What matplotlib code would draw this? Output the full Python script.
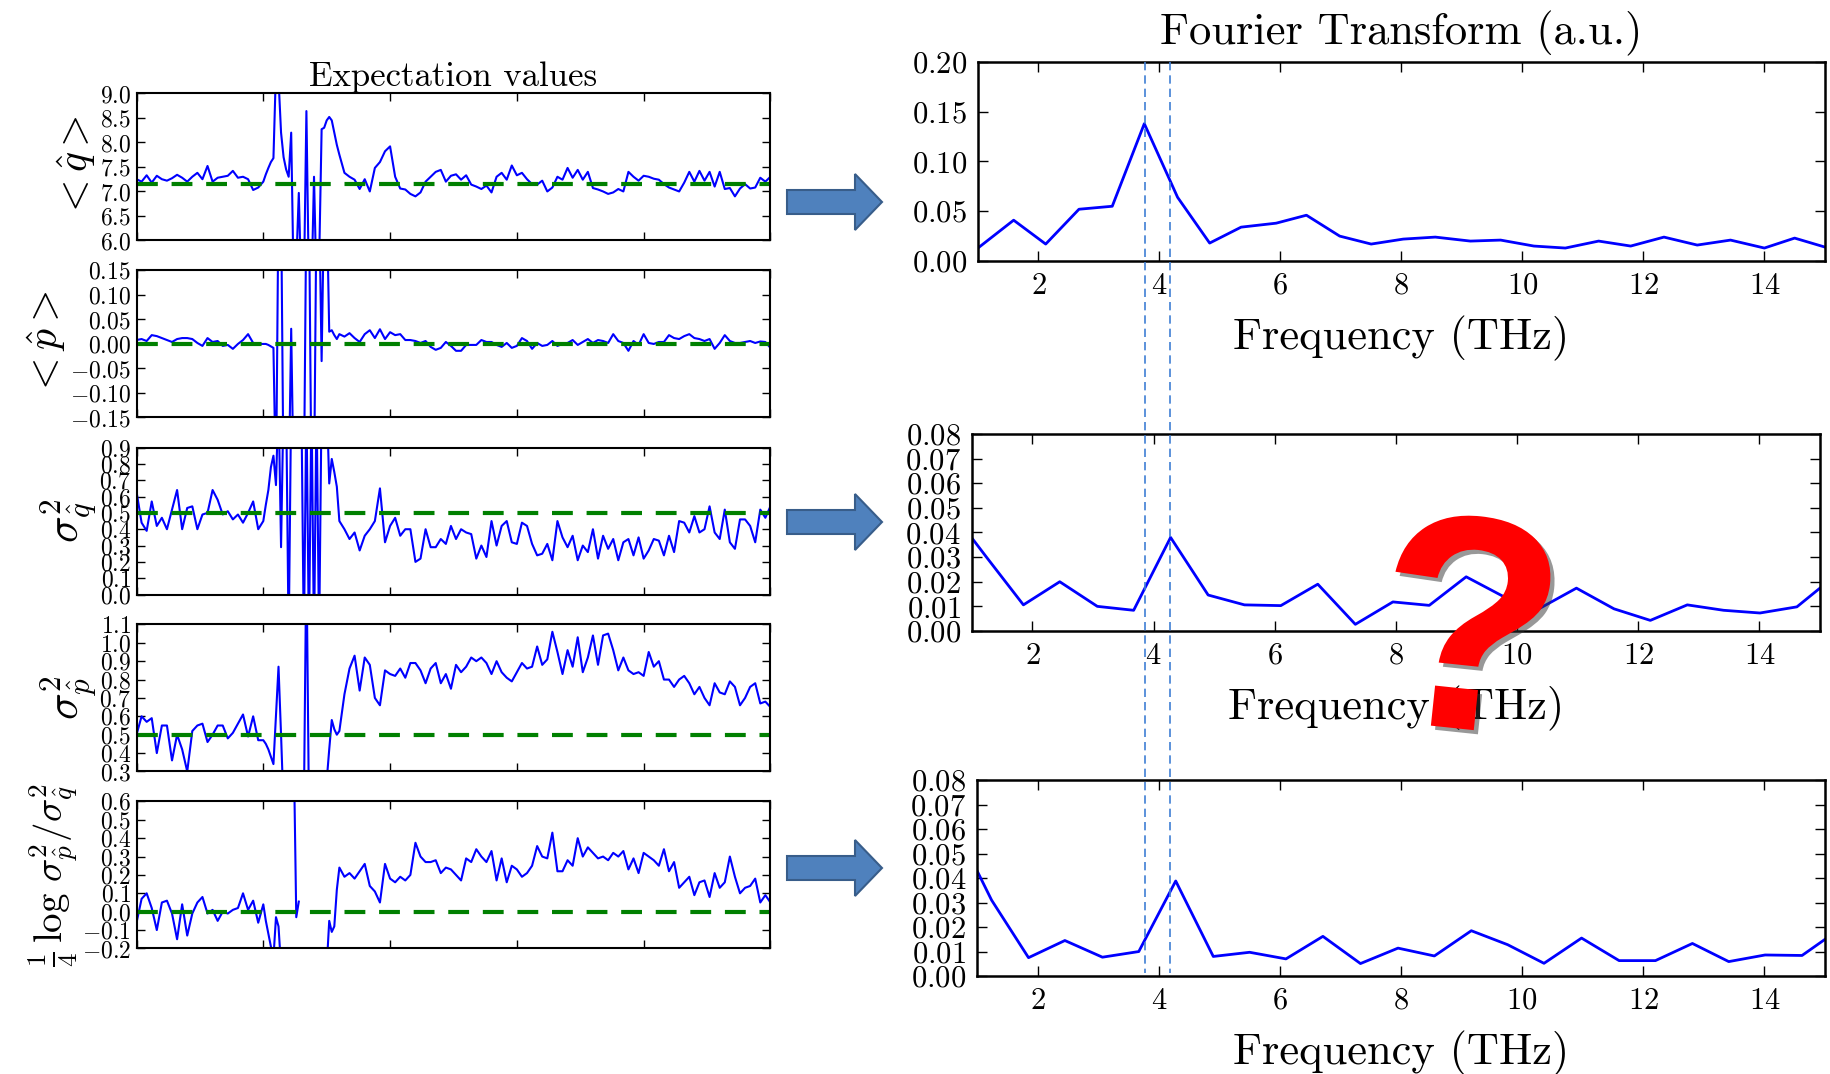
import numpy as np
import matplotlib
matplotlib.use("Agg")
import matplotlib.pyplot as plt
import matplotlib.patheffects as pe
from matplotlib.patches import FancyArrow
from matplotlib.ticker import FuncFormatter

plt.rcParams['font.family'] = 'serif'
plt.rcParams['font.serif'] = ['cmr10']
plt.rcParams['mathtext.fontset'] = 'cm'
plt.rcParams['axes.unicode_minus'] = False

# ---------------- data: expectation values (time in simulation steps) ----------------
# sampling grid: every 2 steps, every step in the transient part
t_steps = list(range(0, 50, 2)) + list(range(50, 81)) + list(range(82, 251, 2))
nan = float('nan')

q_mean = [
    7.25, 7.2, 7.33, 7.18, 7.32, 7.25, 7.22, 7.27, 7.34, 7.28, 7.2, 7.3, 7.38, 7.25, 7.52, 7.2, 7.28, 7.3, 7.32, 7.42, 7.28, 7.3, 7.25, 7.03, 7.08,
    7.2, 7.35, 7.48, 7.6, 7.68, 9.5, 9.3, 8.2, 7.7, 7.45, 7.3, 8.2, 5.0, 5.5, 6.97, 5.0, 5.0, 8.64, 5.0, 5.0, 7.3, 5.0, 5.5, 8.27, 8.3, 8.45, 8.52, 8.45, 8.2, 7.95, 7.75,
    7.38, 7.3, 7.24, 7.05, 7.25, 7.0, 7.48, 7.6, 7.82, 7.92,
    7.3, 7.06, 7.04, 6.95, 6.9, 6.98, 7.2, 7.3, 7.4, 7.44,
    7.2, 7.32, 7.35, 7.24, 7.33, 7.14, 7.1, 7.05, 7.12, 6.98,
    7.3, 7.38, 7.24, 7.53, 7.33, 7.38, 7.25, 7.15, 7.14, 7.22,
    7.0, 7.08, 7.3, 7.24, 7.48, 7.28, 7.44, 7.24, 7.4, 7.07,
    7.04, 7.0, 6.95, 6.98, 7.05, 7.0, 7.4, 7.3, 7.22, 7.32,
    7.3, 7.26, 7.24, 7.15, 7.08, 7.04, 7.0, 7.18, 7.4, 7.2,
    7.42, 7.22, 7.4, 7.1, 7.4, 7.05, 7.07, 6.9, 7.06, 7.15,
    7.06, 7.08, 7.28, 7.2, 7.3]

p_mean = [
    0.008, 0.01, 0.006, 0.018, 0.016, 0.012, 0.008, 0.004, 0.01, 0.012, 0.012, 0.01, 0.002, -0.004, 0.012, 0.004, 0.006, -0.004, -0.002, -0.01, 0.0, 0.008, 0.02, 0.002, 0.0,
    0.0, 0.0, -0.002, -0.005, -0.008, -0.3, 0.3, 0.3, -0.3, -0.3, -0.3, 0.031, -0.3, -0.3, -0.3, -0.3, -0.3, 0.3, 0.3, -0.3, -0.3, 0.3, 0.3, -0.035, 0.3, 0.3, 0.025, 0.028, 0.018, 0.01, 0.02,
    0.015, 0.022, 0.012, 0.004, 0.02, 0.028, 0.012, 0.03, 0.01, 0.024,
    0.018, 0.02, 0.008, 0.008, 0.006, 0.002, 0.006, -0.006, -0.012, -0.008,
    0.004, -0.004, -0.014, -0.014, -0.002, -0.002, -0.002, 0.008, 0.004, 0.004,
    -0.002, -0.006, 0.002, -0.008, -0.004, 0.012, 0.006, -0.01, 0.002, -0.004,
    -0.002, 0.006, -0.004, 0.0, 0.002, 0.008, -0.002, 0.004, 0.01, 0.002,
    0.008, 0.006, 0.002, 0.02, 0.006, 0.002, -0.014, 0.006, -0.002, 0.02,
    0.002, 0.0, 0.004, 0.004, 0.018, 0.012, 0.01, 0.016, 0.02, 0.012,
    0.01, 0.006, 0.01, -0.01, 0.002, 0.018, 0.006, 0.002, 0.002, 0.004,
    0.006, 0.002, 0.005, 0.004, -0.008]

var_q = [
    0.63, 0.44, 0.39, 0.57, 0.42, 0.47, 0.40, 0.52, 0.64, 0.40, 0.53, 0.54, 0.40, 0.49, 0.50, 0.64, 0.58, 0.49, 0.51, 0.46, 0.49, 0.44, 0.50, 0.57, 0.40,
    0.45, 0.55, 0.64, 0.78, 0.85, 0.67, 1.2, 0.29, 1.2, 1.2, -0.3, 1.2, 1.2, 1.2, 1.2, 1.2, -0.3, 1.2, -0.3, 1.2, -0.3, 1.2, -0.3, 1.2, 1.2, 1.2, 0.68, 0.83, 0.75, 0.66, 0.45,
    0.40, 0.34, 0.38, 0.27, 0.36, 0.40, 0.45, 0.65, 0.32, 0.42,
    0.47, 0.36, 0.40, 0.40, 0.20, 0.22, 0.40, 0.29, 0.29, 0.34,
    0.31, 0.42, 0.34, 0.40, 0.38, 0.37, 0.22, 0.30, 0.23, 0.45,
    0.30, 0.42, 0.45, 0.32, 0.31, 0.44, 0.42, 0.31, 0.24, 0.25,
    0.31, 0.21, 0.45, 0.35, 0.29, 0.36, 0.21, 0.30, 0.26, 0.40,
    0.22, 0.36, 0.28, 0.34, 0.21, 0.32, 0.34, 0.24, 0.35, 0.22,
    0.27, 0.34, 0.33, 0.24, 0.36, 0.26, 0.45, 0.44, 0.38, 0.48,
    0.38, 0.40, 0.54, 0.38, 0.34, 0.52, 0.32, 0.28, 0.46, 0.46,
    0.42, 0.32, 0.52, 0.47, 0.54]

var_p = [
    0.50, 0.60, 0.57, 0.59, 0.40, 0.55, 0.55, 0.36, 0.50, 0.42, 0.30, 0.52, 0.55, 0.56, 0.46, 0.50, 0.55, 0.55, 0.48, 0.51, 0.56, 0.61, 0.49, 0.60, 0.47,
    0.47, 0.45, 0.42, 0.38, 0.34, 0.6, 0.87, 0.5, 0.1, 0.1, 0.1, 0.1, 0.1, 0.1, 0.1, 0.1, 0.1, 1.5, 0.1, 0.1, 0.1, 0.1, 0.1, 0.1, 0.1, 0.25, 0.42, 0.58, 0.53, 0.5, 0.52,
    0.72, 0.86, 0.93, 0.74, 0.92, 0.88, 0.70, 0.66, 0.85, 0.83,
    0.82, 0.86, 0.81, 0.89, 0.89, 0.85, 0.78, 0.86, 0.89, 0.78,
    0.83, 0.75, 0.88, 0.84, 0.87, 0.92, 0.90, 0.92, 0.89, 0.83,
    0.90, 0.84, 0.81, 0.79, 0.84, 0.89, 0.86, 0.87, 0.98, 0.88,
    0.91, 1.06, 0.95, 0.83, 0.96, 0.87, 1.03, 0.84, 0.92, 1.04,
    0.88, 1.04, 1.05, 0.96, 0.85, 0.92, 0.85, 0.83, 0.84, 0.82,
    0.95, 0.87, 0.90, 0.80, 0.80, 0.76, 0.80, 0.82, 0.78, 0.72,
    0.76, 0.70, 0.66, 0.78, 0.73, 0.72, 0.79, 0.76, 0.66, 0.70,
    0.76, 0.78, 0.67, 0.68, 0.65]

squeeze = [
    -0.06, 0.07, 0.10, 0.02, -0.10, 0.05, 0.06, -0.01, -0.15, 0.04, -0.13, -0.01, 0.05, 0.08, -0.01, 0.01, -0.05, 0.0, -0.01, 0.01, 0.02, 0.10, 0.01, 0.06, -0.06,
    0.04, -0.05, -0.12, -0.19, -0.25, -0.03, -0.08, -0.3, nan, nan, nan, nan, 0.9, -0.03, 0.055, nan, nan, nan, nan, nan, nan, nan, nan, nan, nan, -0.3, -0.05, -0.11, -0.08, 0.12, 0.24,
    0.19, 0.21, 0.18, 0.22, 0.26, 0.14, 0.11, 0.05, 0.26, 0.18,
    0.16, 0.19, 0.17, 0.20, 0.375, 0.30, 0.27, 0.27, 0.28, 0.21,
    0.24, 0.23, 0.20, 0.17, 0.29, 0.27, 0.34, 0.30, 0.27, 0.33,
    0.17, 0.29, 0.16, 0.25, 0.23, 0.19, 0.21, 0.25, 0.357, 0.30,
    0.29, 0.43, 0.22, 0.22, 0.28, 0.25, 0.40, 0.30, 0.35, 0.32,
    0.29, 0.30, 0.28, 0.32, 0.30, 0.33, 0.23, 0.29, 0.21, 0.32,
    0.30, 0.28, 0.25, 0.34, 0.22, 0.27, 0.13, 0.16, 0.19, 0.09,
    0.16, 0.17, 0.08, 0.21, 0.13, 0.16, 0.30, 0.19, 0.10, 0.13,
    0.14, 0.18, 0.05, 0.09, 0.05]

left_series = [q_mean, p_mean, var_q, var_p, squeeze]
left_ref = [7.15, 0.0, 0.5, 0.5, 0.0]          # green dashed reference levels
left_ylim = [(6.0, 9.0), (-0.15, 0.15), (0.0, 0.9), (0.3, 1.1), (-0.2, 0.6)]
left_yticks = [
    [6.0, 6.5, 7.0, 7.5, 8.0, 8.5, 9.0],
    [-0.15, -0.10, -0.05, 0.00, 0.05, 0.10, 0.15],
    [0.0, 0.1, 0.2, 0.3, 0.4, 0.5, 0.6, 0.7, 0.8, 0.9],
    [0.3, 0.4, 0.5, 0.6, 0.7, 0.8, 0.9, 1.0, 1.1],
    [-0.2, -0.1, 0.0, 0.1, 0.2, 0.3, 0.4, 0.5, 0.6],
]
left_fmt = ['%.1f', '%.2f', '%.1f', '%.1f', '%.1f']
left_labels = [r'$<\hat{q}>$', r'$<\hat{p}>$', r'$\sigma^2_{\hat{q}}$', r'$\sigma^2_{\hat{p}}$',
               r'$\frac{1}{4}\,\log\,\sigma^2_{\hat{p}}/\sigma^2_{\hat{q}}$']
left_label_size = [30, 30, 32, 32, 28]
t_ticks = [0, 50, 100, 150, 200, 250]

# ---------------- data: Fourier transforms ----------------
freq_top = [1.0, 1.59, 2.12, 2.67, 3.22, 3.75, 4.30, 4.83, 5.35, 5.93, 6.43, 6.98, 7.50, 8.03,
            8.56, 9.14, 9.64, 10.19, 10.71, 11.26, 11.79, 12.34, 12.89, 13.44, 14.0, 14.5, 15.0]
ft_q = [0.013, 0.041, 0.017, 0.052, 0.055, 0.138, 0.064, 0.018, 0.034, 0.038, 0.046, 0.025, 0.017, 0.022,
        0.024, 0.020, 0.021, 0.015, 0.013, 0.020, 0.015, 0.024, 0.016, 0.021, 0.013, 0.023, 0.014]

freq_var = [0.62, 1.24, 1.85, 2.45, 3.07, 3.67, 4.28, 4.90, 5.50, 6.10, 6.71, 7.33, 7.95, 8.55,
            9.16, 9.76, 10.36, 10.98, 11.60, 12.20, 12.81, 13.41, 14.01, 14.62, 15.23]
ft_varq = [0.050, 0.030, 0.0106, 0.020, 0.010, 0.0084, 0.038, 0.0146, 0.0106, 0.0103, 0.019, 0.0027, 0.0118,
           0.0104, 0.022, 0.0142, 0.009, 0.0174, 0.009, 0.0043, 0.0106, 0.0084, 0.0073, 0.0098, 0.022]
ft_squeeze = [0.062, 0.031, 0.0075, 0.0145, 0.0077, 0.010, 0.0388, 0.008, 0.0097, 0.007, 0.0162, 0.0051, 0.0114,
              0.0082, 0.0185, 0.0128, 0.0052, 0.0155, 0.0063, 0.0063, 0.0133, 0.0059, 0.0086, 0.0084, 0.019]

ft_yticks_top = [0.00, 0.05, 0.10, 0.15, 0.20]
ft_yticks_small = [0.00, 0.01, 0.02, 0.03, 0.04, 0.05, 0.06, 0.07, 0.08]
freq_ticks = [2, 4, 6, 8, 10, 12, 14]
marked_freqs = [3.76, 4.17]     # dashed guide lines (THz, top panel scale)


def tick_fmt(fmt):
    def f(v, pos):
        if abs(v) < 1e-9:
            v = 0.0
        return '$' + fmt % v + '$'
    return FuncFormatter(f)


fig = plt.figure(figsize=(18.3, 10.74), dpi=100)

# ---------------- left column ----------------
left_bottoms = [0.7761, 0.6113, 0.4464, 0.2817, 0.1169]
left_axes = []
for i in range(5):
    ax = fig.add_axes([0.0746, left_bottoms[i], 0.3464, 0.1369])
    ax.plot(t_steps, left_series[i], color='#0000ff', lw=1.5)
    ax.axhline(left_ref[i], color='#008000', lw=3, dashes=(5, 3.3))
    ax.set_xlim(0, 250)
    ax.set_ylim(*left_ylim[i])
    ax.set_xticks(t_ticks)
    ax.set_yticks(left_yticks[i])
    ax.yaxis.set_major_formatter(tick_fmt(left_fmt[i]))
    ax.tick_params(direction='in', top=True, right=True, length=6, width=1,
                   labelsize=17, pad=4, labelbottom=False)
    ax.set_ylabel(left_labels[i], fontsize=left_label_size[i], labelpad=1)
    for sp in ax.spines.values():
        sp.set_linewidth(1.5)
    left_axes.append(ax)
left_axes[0].set_title('Expectation values', fontsize=25, pad=5)

# ---------------- right column ----------------
right_pos = [[0.5344, 0.7570, 0.4628, 0.1853],
             [0.5311, 0.4125, 0.4634, 0.1834],
             [0.5339, 0.0912, 0.4634, 0.1825]]
right_data = [(freq_top, ft_q, (0, 0.20), ft_yticks_top),
              (freq_var, ft_varq, (0, 0.08), ft_yticks_small),
              (freq_var, ft_squeeze, (0, 0.08), ft_yticks_small)]
right_axes = []
for pos, (fx, fy, ylim, yt) in zip(right_pos, right_data):
    ax = fig.add_axes(pos)
    ax.plot(fx, fy, color='#0000ff', lw=2)
    ax.set_xlim(1, 15)
    ax.set_ylim(*ylim)
    ax.set_xticks(freq_ticks)
    ax.set_yticks(yt)
    ax.xaxis.set_major_formatter(tick_fmt('%d'))
    ax.yaxis.set_major_formatter(tick_fmt('%.2f'))
    ax.tick_params(direction='in', top=True, right=True, length=7, width=1,
                   labelsize=22, pad=8)
    ax.set_xlabel('Frequency (THz)', fontsize=32, labelpad=12)
    for sp in ax.spines.values():
        sp.set_linewidth(1.8)
    right_axes.append(ax)
right_axes[0].set_title('Fourier Transform (a.u.)', fontsize=32, pad=13)

# ---------------- overlay: arrows, guide lines, question mark ----------------
W, H = 1830, 1074
ov = fig.add_axes([0, 0, 1, 1], zorder=10)
ov.set_xlim(0, W)
ov.set_ylim(H, 0)
ov.axis('off')

for yc in [202, 522, 868]:
    ov.add_patch(FancyArrow(787, yc, 95, 0, width=24, head_width=56, head_length=27,
                            length_includes_head=True, fc='#4f81bd', ec='#385d8a', lw=1.5))

top_ax, bot_ax = right_axes[0], right_axes[2]
y_top = H - top_ax.transAxes.transform((0, 1))[1]
y_bot = H - bot_ax.transData.transform((1, 0.0012))[1]
for f in marked_freqs:
    xpx = top_ax.transData.transform((f, 0))[0]
    ov.plot([xpx, xpx], [y_top, y_bot], color='#3f7fd4', lw=1.2, dashes=(5, 3))

ov.text(1467, 650, '?', fontsize=220, fontweight='bold', family='Liberation Sans',
        color='#ff0000', ha='center', va='center', rotation=-6,
        path_effects=[pe.SimplePatchShadow(offset=(3, -3), shadow_rgbFace='#333333', alpha=0.5),
                      pe.Normal()])

fig.savefig('out.png', dpi=100)
